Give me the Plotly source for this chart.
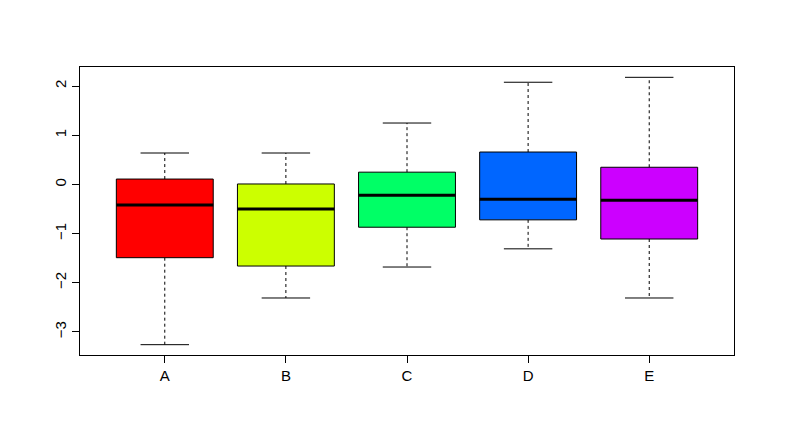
import plotly.graph_objects as go

cats = ["A", "B", "C", "D", "E"]
lower = [-3.26, -2.31, -1.68, -1.31, -2.31]
q1 = [-1.49, -1.66, -0.87, -0.72, -1.11]
med = [-0.42, -0.50, -0.22, -0.30, -0.32]
q3 = [0.11, 0.01, 0.25, 0.66, 0.35]
upper = [0.64, 0.64, 1.25, 2.08, 2.18]
colors = ["#FF0000", "#CCFF00", "#00FF66", "#0066FF", "#CC00FF"]

fig = go.Figure()
hw, cw = 0.4, 0.2
for i, c in enumerate(cats):
    fig.add_trace(go.Scatter(x=[i, i, None, i, i], y=[q3[i], upper[i], None, q1[i], lower[i]],
                             mode="lines", line=dict(color="black", width=1, dash="3px,3px"),
                             showlegend=False, hoverinfo="skip"))
    fig.add_trace(go.Scatter(x=[i - cw, i + cw, None, i - cw, i + cw],
                             y=[upper[i], upper[i], None, lower[i], lower[i]],
                             mode="lines", line=dict(color="black", width=1),
                             showlegend=False, hoverinfo="skip"))
    fig.add_trace(go.Scatter(x=[i - hw, i + hw, i + hw, i - hw, i - hw],
                             y=[q1[i], q1[i], q3[i], q3[i], q1[i]],
                             mode="lines", fill="toself", fillcolor=colors[i],
                             line=dict(color="black", width=1), showlegend=False, name=c))
    fig.add_trace(go.Scatter(x=[i - hw, i + hw], y=[med[i], med[i]], mode="lines",
                             line=dict(color="black", width=3), showlegend=False, hoverinfo="skip"))

axis_common = dict(showgrid=False, zeroline=False, showline=True, linecolor="black", linewidth=1,
                   mirror=True, ticks="outside", ticklen=7, tickcolor="black",
                   tickfont=dict(family="Liberation Sans, Arial", size=15, color="black"))
fig.update_xaxes(range=[-0.70, 4.70], tickvals=list(range(len(cats))), ticktext=cats, **axis_common)
fig.update_yaxes(range=[-3.47, 2.39], tickvals=[-3, -2, -1, 0, 1, 2],
                 ticktext=["−3", "−2", "−1", "0", "1", "2"], tickangle=-90, **axis_common)
fig.update_layout(width=790, height=437, margin=dict(l=72, r=64, t=59, b=90),
                  paper_bgcolor="white", plot_bgcolor="white")
fig.write_html("out.html")
